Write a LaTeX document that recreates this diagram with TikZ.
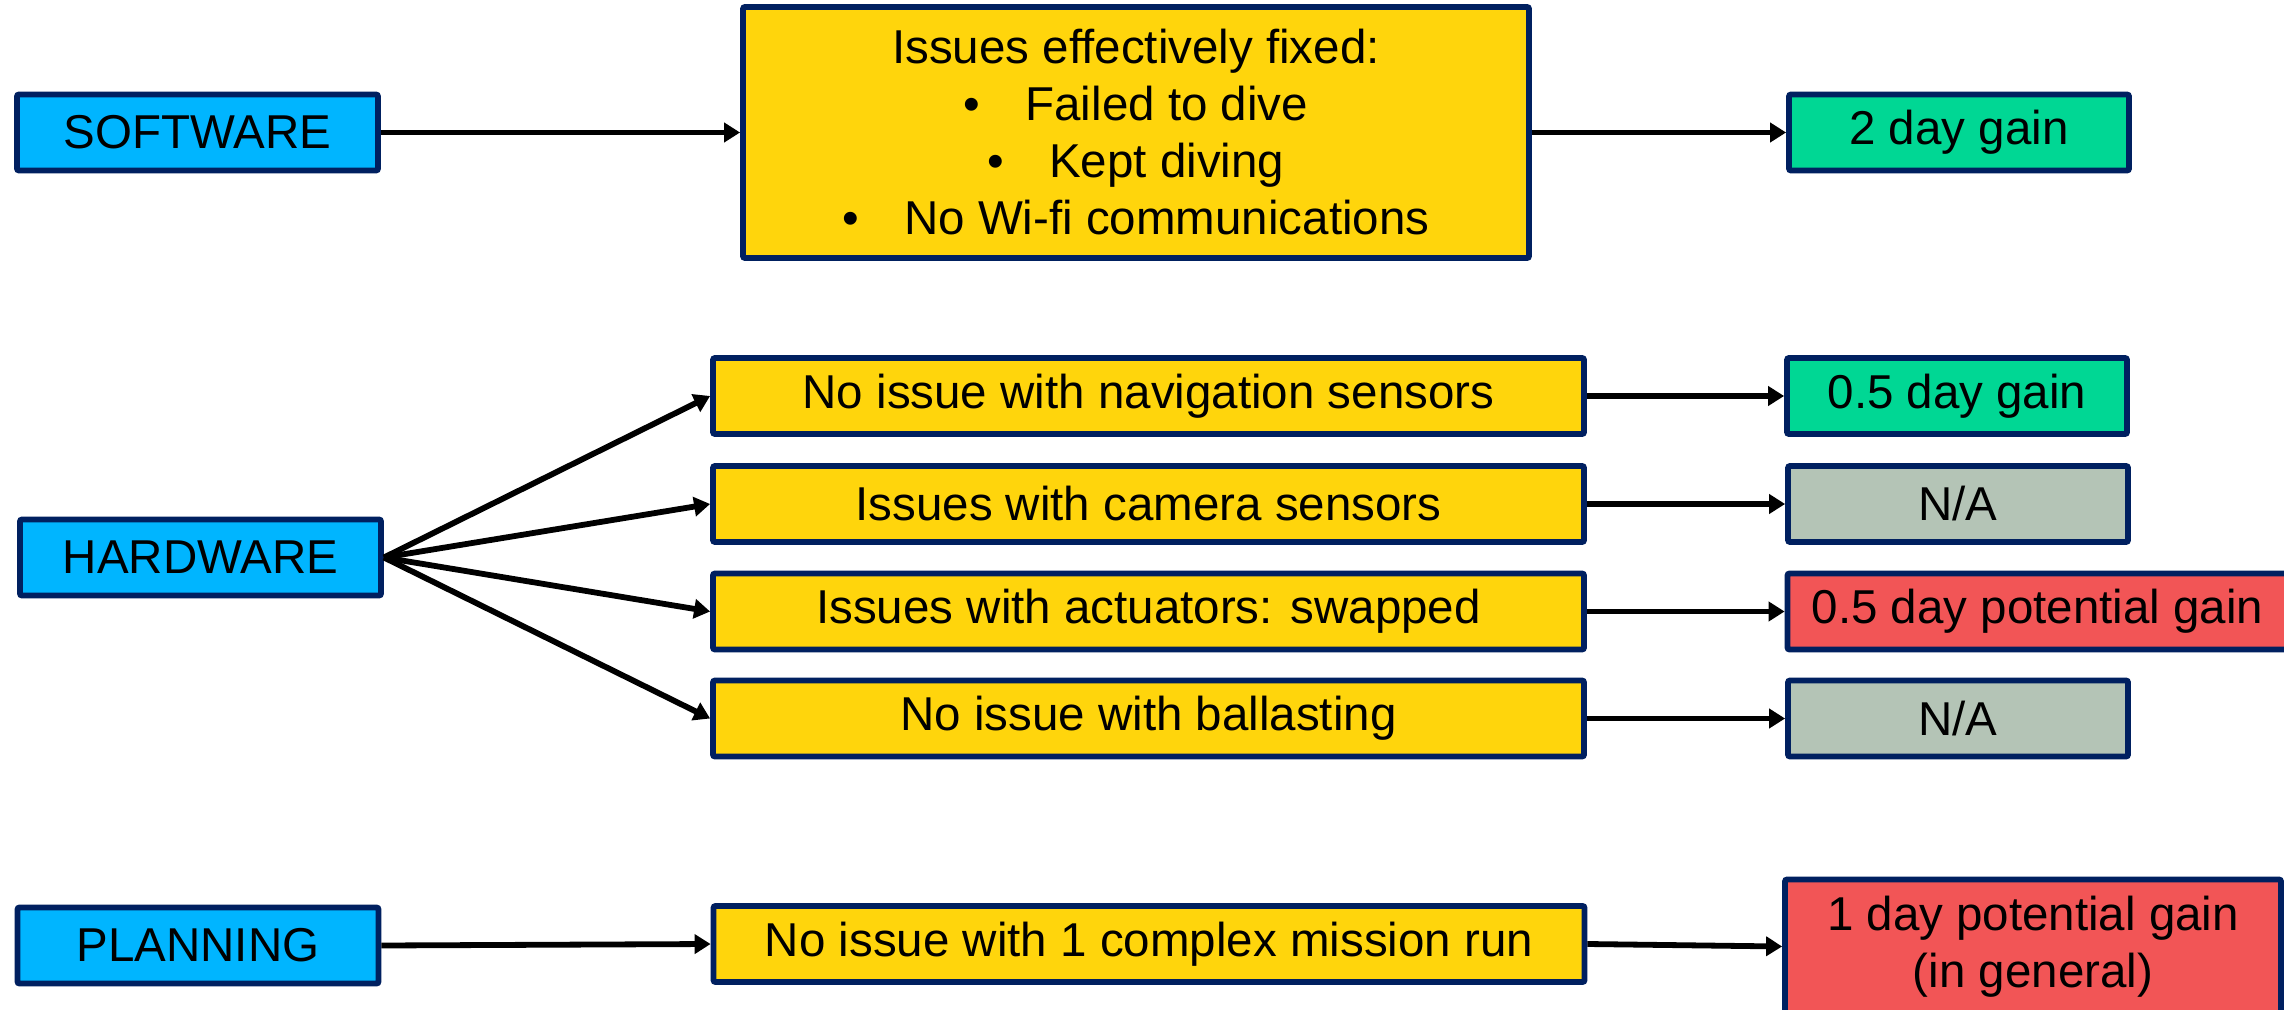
\documentclass[tikz,border=0pt]{standalone}
\usepackage{fontspec}
\setmainfont{Liberation Sans}
\usetikzlibrary{arrows.meta}
\definecolor{navy}{HTML}{002060}
\definecolor{skyblue}{HTML}{00B5FF}
\definecolor{gold}{HTML}{FFD50C}
\definecolor{mint}{HTML}{00D794}
\definecolor{sage}{HTML}{B4C4B6}
\definecolor{coral}{HTML}{F25556}
\begin{document}
\begin{tikzpicture}[x=0.5pt,y=-0.5pt,
  box/.style={draw=navy,line width=2.9pt,rounded corners=1pt,inner sep=0pt,
    font=\fontsize{23.75pt}{28.5pt}\selectfont,align=center,text=black},
  cat/.style={box,fill=skyblue,minimum width=180.5pt,minimum height=38pt},
  issue/.style={box,fill=gold,minimum width=435.5pt,minimum height=38pt},
  result/.style={box,minimum width=170pt,minimum height=38pt},
  gain/.style={result,fill=mint},
  none/.style={result,fill=sage},
  maybe/.style={result,fill=coral},
  link/.style={draw=black,line width=2.9pt,-{Triangle[length=8pt,width=9.5pt]}},
]
\useasboundingbox (0,0) rectangle (2284,1010);
\clip (0,0) rectangle (2284,1010);
\fill[white] (0,0) rectangle (2284,1010);

% categories
\node[cat] (sw) at (197.5,132.5) {SOFTWARE};
\node[cat] (hw) at (200.5,557.5) {HARDWARE};
\node[cat] (pl) at (198,945.5) {PLANNING};

% findings
\node[box,fill=gold,minimum width=393pt,minimum height=125.5pt] (fix) at (1136,132.5)
  {Issues effectively fixed:\\
   \textbullet\hspace{22.5pt}Failed to dive\\
   \textbullet\hspace{22.5pt}Kept diving\\
   \textbullet\hspace{22.5pt}No Wi-fi communications};
\node[issue] (nav) at (1148.5,396) {No issue with navigation sensors};
\node[issue] (cam) at (1148.5,504) {Issues with camera sensors};
\node[issue] (act) at (1148.5,611.5) {Issues with actuators: swapped};
\node[issue] (bal) at (1148.5,718.5) {No issue with ballasting};
\node[issue] (mis) at (1149,944) {No issue with 1 complex mission run};

% outcomes
\node[gain] (g1) at (1959,132.5) {2 day gain};
\node[gain] (g2) at (1957,396) {0.5 day gain};
\node[none] (n1) at (1958,504) {N/A};
\node[maybe,minimum width=250pt] (p1) at (2037.5,611.5) {0.5 day potential gain};
\node[none] (n2) at (1958,718.5) {N/A};
\node[maybe,minimum width=248pt,minimum height=67pt] (p2) at (2033,946.5)
  {1 day potential gain\\(in general)};

% connectors
\draw[link] (sw.east) -- (fix.west);
\draw[link] (fix.east) -- (g1.west);
\draw[link] (hw.east) -- (nav.west);
\draw[link] (hw.east) -- (cam.west);
\draw[link] (hw.east) -- (act.west);
\draw[link] (hw.east) -- (bal.west);
\draw[link] (nav.east) -- (g2.west);
\draw[link] (cam.east) -- (n1.west);
\draw[link] (act.east) -- (p1.west);
\draw[link] (bal.east) -- (n2.west);
\draw[link] (pl.east) -- (mis.west);
\draw[link] (mis.east) -- (p2.west);
\end{tikzpicture}
\end{document}
